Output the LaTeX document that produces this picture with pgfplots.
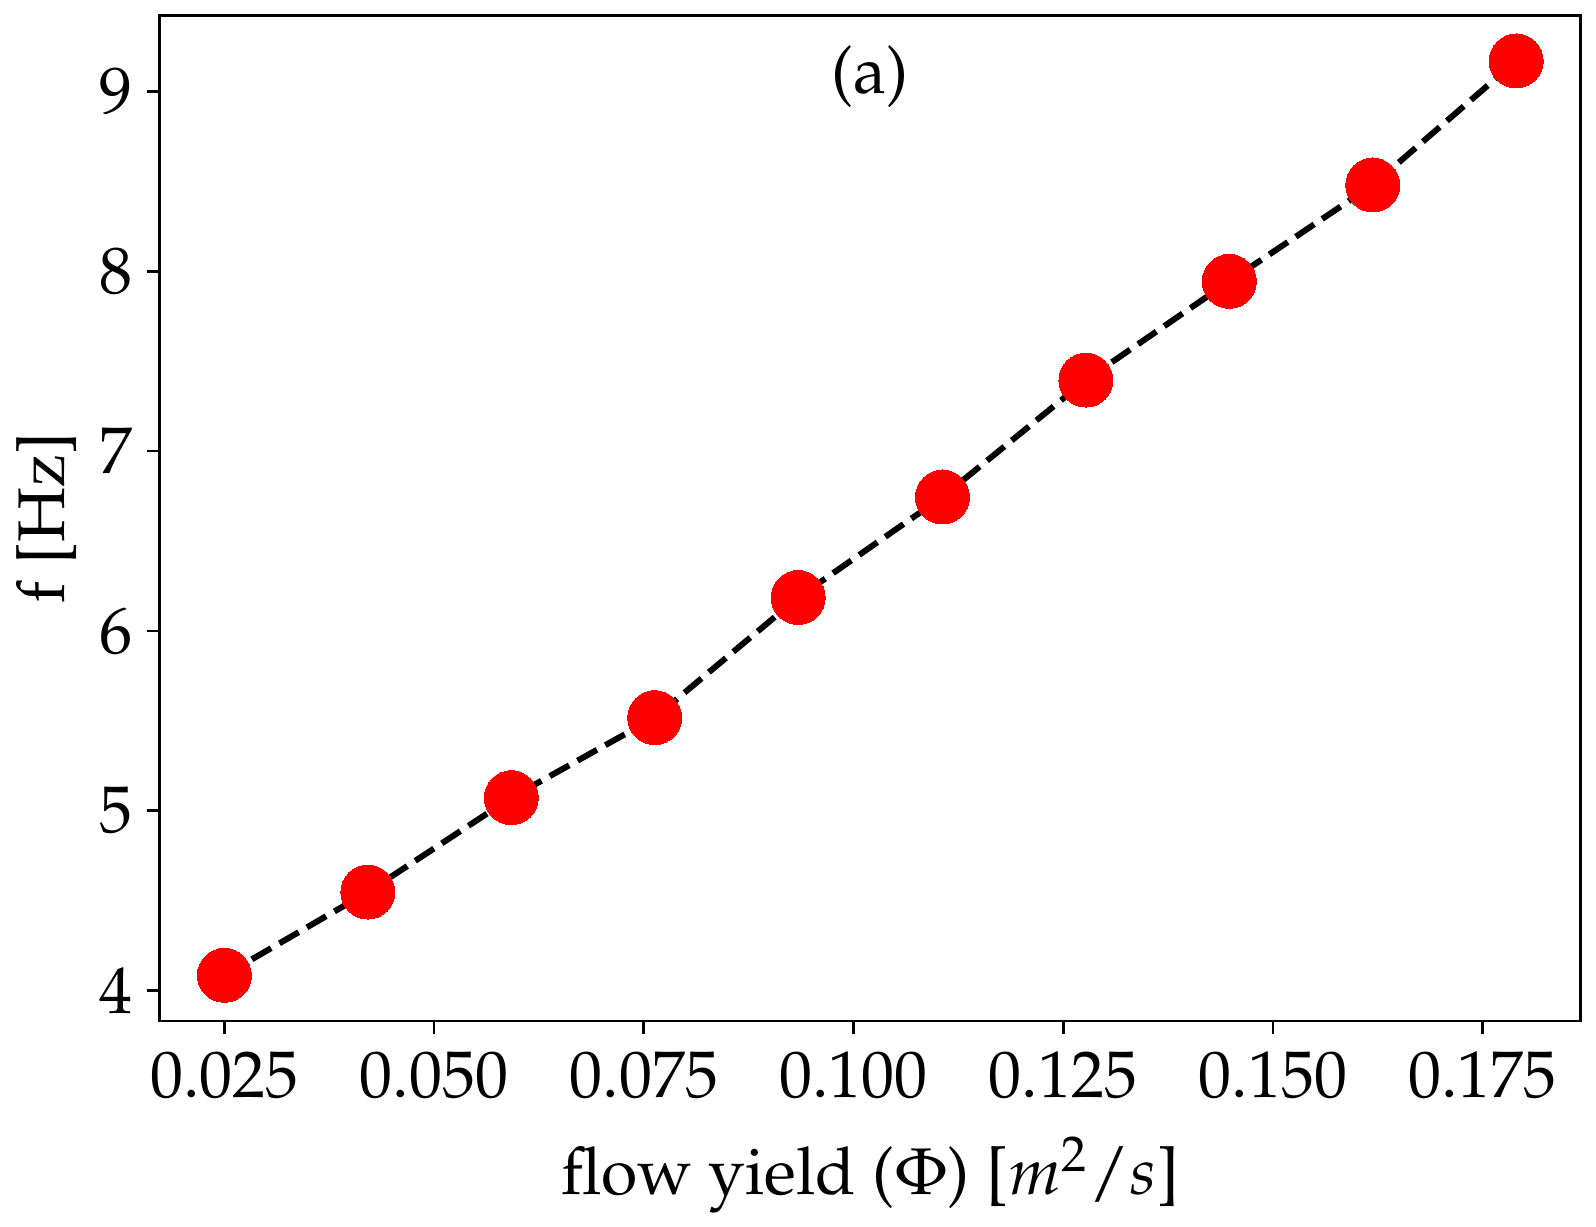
\documentclass[border=0pt]{standalone}
\usepackage[T1]{fontenc}
\usepackage{mathpazo}
\usepackage{pgfplots}
\pgfplotsset{compat=1.18}
\begin{document}
\fontsize{16.5}{19}\selectfont
\begin{tikzpicture}
\begin{axis}[
  name=ax,
  scale only axis,
  width=355.2pt, height=251.4pt,
  xmin=0.0173, xmax=0.1867,
  ymin=3.831, ymax=9.424,
  xtick={0.025,0.05,0.075,0.1,0.125,0.15,0.175},
  xticklabels={0.025,0.050,0.075,0.100,0.125,0.150,0.175},
  ytick={4,5,6,7,8,9},
  tick pos=left,
  tick align=outside,
  major tick length=3.2pt,
  every tick/.style={black, line width=0.67pt},
  axis line style={line width=0.67pt},
  tick label style={font=\fontsize{16.5}{19}\selectfont},
  xticklabel style={anchor=base, yshift=-15.9pt},
  yticklabel style={anchor=east, xshift=2pt},
  xlabel={flow yield ($\Phi$) [$m^2/s$]},
  ylabel={f [Hz]},
  xlabel style={font=\fontsize{16.5}{19}\selectfont, at={(axis description cs:0.5,0)}, anchor=base, yshift=-43.5pt},
  ylabel style={font=\fontsize{16.5}{19}\selectfont, at={(axis description cs:0,0.5)}, anchor=base, yshift=23.9pt},
  /pgf/number format/assume math mode=true,
  clip=false,
]
\addplot[black, line width=1.5pt, dash pattern=on 5.55pt off 2.4pt,
  mark=*, mark size=6.75pt, mark options={solid, fill=red, draw=red, line width=0pt}]
coordinates {
(0.0250,4.085)
(0.0421,4.548)
(0.0592,5.073)
(0.0763,5.518)
(0.0934,6.186)
(0.1106,6.745)
(0.1277,7.395)
(0.1448,7.944)
(0.1619,8.480)
(0.1790,9.170)
};
\node[font=\fontsize{16.5}{19}\selectfont] at (rel axis cs:0.5,0.939) {(a)};
\end{axis}
\pgfresetboundingbox
\path ([shift={(-39.95pt,-51.5pt)}]ax.south west) rectangle ([shift={(3.8pt,3.8pt)}]ax.north east);
\end{tikzpicture}
\end{document}
